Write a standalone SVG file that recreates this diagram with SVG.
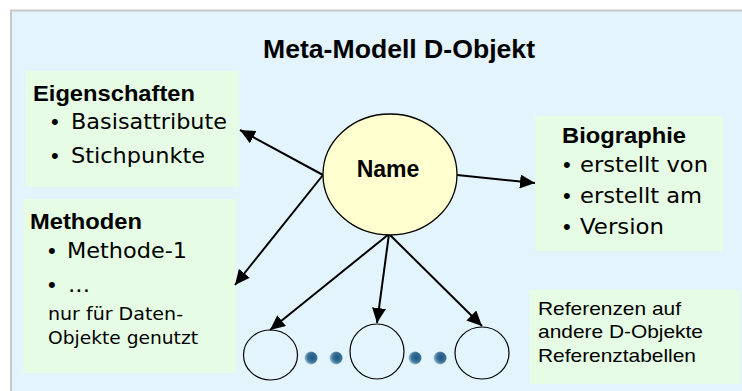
<svg xmlns="http://www.w3.org/2000/svg" width="742" height="391" viewBox="0 0 742 391">
<defs>
<style>
.ttl{font-family:"Liberation Sans",Arial,sans-serif;font-weight:bold;fill:#000}
.h{font-family:"Liberation Sans",Arial,sans-serif;font-weight:bold;font-size:22px;fill:#000}
.b{font-family:"DejaVu Sans",Verdana,sans-serif;font-size:20.5px;fill:#000}
.bl{font-family:"Liberation Sans",Arial,sans-serif;font-size:22px;fill:#000}
.s{font-family:"DejaVu Sans",Verdana,sans-serif;font-size:17.5px;fill:#000}
.r{font-family:"Liberation Sans",Arial,sans-serif;font-size:18.5px;fill:#000}
.box{fill:#E6FCE4}
.ref{fill:none;stroke:#000;stroke-width:1.2}
.conn line{stroke:#000;stroke-width:2;marker-end:url(#ah)}
.dot{fill:url(#dg)}
</style>
<marker id="ah" markerUnits="userSpaceOnUse" markerWidth="16" markerHeight="14" refX="15" refY="7" orient="auto">
<path d="M0,0 L15,7 L0,14 z" fill="#000"/>
</marker>
<radialGradient id="dg" cx="0.6" cy="0.45" r="0.6">
<stop offset="0" stop-color="#1f5684"/>
<stop offset="0.6" stop-color="#3a7298"/>
<stop offset="1" stop-color="#a9c6d6"/>
</radialGradient>
</defs>
<rect x="0" y="0" width="742" height="391" fill="#ffffff"/>
<rect x="11" y="10.5" width="740" height="390" fill="#E3F4FC" stroke="#C8C8C8" stroke-width="2"/>
<g id="title">
<text class="ttl" x="263" y="58" font-size="26.5" textLength="272" lengthAdjust="spacingAndGlyphs">Meta-Modell D-Objekt</text>
</g>
<g id="eigenschaften">
<rect class="box" x="26" y="71" width="213" height="116"/>
<text class="h" x="33" y="101" textLength="162" lengthAdjust="spacingAndGlyphs">Eigenschaften</text>
<text class="bl" x="51" y="129">•</text>
<text class="b" x="71" y="129" textLength="156" lengthAdjust="spacingAndGlyphs">Basisattribute</text>
<text class="bl" x="51" y="163">•</text>
<text class="b" x="71" y="163" textLength="134" lengthAdjust="spacingAndGlyphs">Stichpunkte</text>
</g>
<g id="methoden">
<rect class="box" x="23" y="199" width="213" height="174"/>
<text class="h" x="30" y="229" textLength="112" lengthAdjust="spacingAndGlyphs">Methoden</text>
<text class="bl" x="48" y="258">•</text>
<text class="b" x="67" y="258" textLength="120" lengthAdjust="spacingAndGlyphs">Methode-1</text>
<text class="bl" x="48" y="292">•</text>
<text class="b" x="68" y="292" textLength="22" lengthAdjust="spacingAndGlyphs">...</text>
<text class="s" x="48" y="320" textLength="135" lengthAdjust="spacingAndGlyphs">nur für Daten-</text>
<text class="s" x="48" y="344" textLength="150" lengthAdjust="spacingAndGlyphs">Objekte genutzt</text>
</g>
<g id="biographie">
<rect class="box" x="535" y="116" width="188" height="135"/>
<text class="h" x="562" y="143" textLength="124" lengthAdjust="spacingAndGlyphs">Biographie</text>
<text class="bl" x="563" y="172">•</text>
<text class="b" x="580" y="172" textLength="128" lengthAdjust="spacingAndGlyphs">erstellt von</text>
<text class="bl" x="563" y="203">•</text>
<text class="b" x="580" y="203" textLength="122" lengthAdjust="spacingAndGlyphs">erstellt am</text>
<text class="bl" x="563" y="234">•</text>
<text class="b" x="580" y="234" textLength="84" lengthAdjust="spacingAndGlyphs">Version</text>
</g>
<g id="referenzen">
<rect class="box" x="530" y="290" width="210" height="94"/>
<text class="r" x="538" y="315" textLength="143" lengthAdjust="spacingAndGlyphs">Referenzen auf</text>
<text class="r" x="538" y="338" textLength="165" lengthAdjust="spacingAndGlyphs">andere D-Objekte</text>
<text class="r" x="538" y="362" textLength="158" lengthAdjust="spacingAndGlyphs">Referenztabellen</text>
</g>
<g id="connectors" class="conn">
<line x1="323" y1="175" x2="240" y2="130"/>
<line x1="323" y1="175" x2="235" y2="285"/>
<line x1="457" y1="175" x2="535" y2="183"/>
<line x1="389" y1="234" x2="270" y2="330"/>
<line x1="389" y1="234" x2="377" y2="323"/>
<line x1="389" y1="234" x2="482" y2="326"/>
</g>
<g id="name">
<ellipse cx="390" cy="174.5" rx="67" ry="60.5" fill="#FFFFD0" stroke="#000" stroke-width="1.3"/>
<text class="ttl" x="388" y="177" font-size="23" text-anchor="middle">Name</text>
</g>
<g id="ref1"><ellipse class="ref" cx="270.5" cy="355" rx="27" ry="25"/></g>
<g id="ref2"><ellipse class="ref" cx="377" cy="351.5" rx="27" ry="27.5"/></g>
<g id="ref3"><ellipse class="ref" cx="482" cy="353" rx="27" ry="26"/></g>
<g id="dots">
<circle class="dot" cx="311" cy="358" r="6.5"/>
<circle class="dot" cx="336" cy="358" r="6.5"/>
<circle class="dot" cx="415" cy="358" r="6.5"/>
<circle class="dot" cx="440" cy="358" r="6.5"/>
</g>
</svg>
